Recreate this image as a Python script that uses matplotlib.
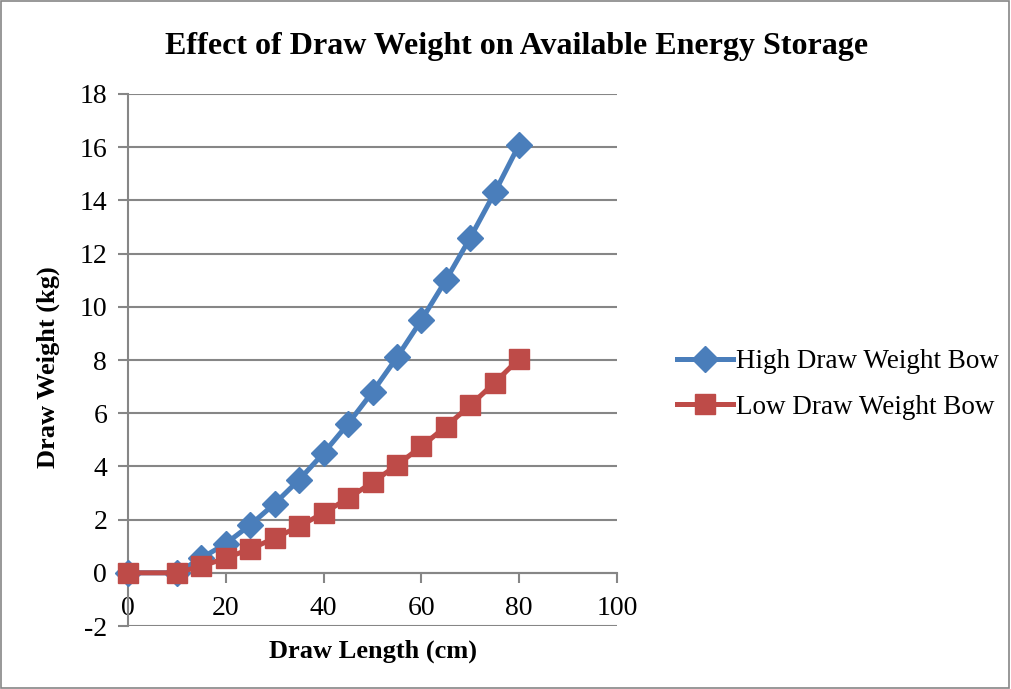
import numpy as np
import matplotlib
matplotlib.use('Agg')
import matplotlib.pyplot as plt
from matplotlib.patches import Rectangle

plt.rcParams['font.family'] = ['Liberation Serif', 'DejaVu Serif']
plt.rcParams['axes.unicode_minus'] = False

draw_length = [0, 10, 15, 20, 25, 30, 35, 40, 45, 50, 55, 60, 65, 70, 75, 80]
high_weight = [0, 0, 0.55, 1.1, 1.8, 2.6, 3.5, 4.5, 5.6, 6.8, 8.1, 9.5, 11.0, 12.6, 14.3, 16.1]
low_weight = [0, 0, 0.25, 0.55, 0.9, 1.3, 1.75, 2.25, 2.8, 3.4, 4.05, 4.75, 5.5, 6.3, 7.15, 8.05]

x_ticks = [0, 20, 40, 60, 80, 100]
y_ticks = [-2, 0, 2, 4, 6, 8, 10, 12, 14, 16, 18]

blue = '#4A7EBB'
red = '#BE4B48'
grid_col = '#868686'

fig = plt.figure(figsize=(10.11, 6.89), dpi=100)
ax = fig.add_axes([0.1266, 0.0914, 0.4837, 0.7722])

ax.plot(draw_length, high_weight, color=blue, lw=3.6, marker='D', ms=13,
        label='High Draw Weight Bow', zorder=3, clip_on=False)
ax.plot(draw_length, low_weight, color=red, lw=3.6, marker='s', ms=15,
        label='Low Draw Weight Bow', zorder=4, clip_on=False)

ax.set_xlim(0, 100)
ax.set_ylim(-2, 18)
ax.set_xticks(x_ticks)
ax.set_yticks(y_ticks)
ax.yaxis.grid(True, color=grid_col, lw=1.5)
ax.set_axisbelow(True)

for s in ['top', 'right']:
    ax.spines[s].set_visible(False)
ax.spines['bottom'].set_position(('data', 0))
ax.spines['bottom'].set_color(grid_col)
ax.spines['bottom'].set_linewidth(1.5)
ax.spines['left'].set_color(grid_col)
ax.spines['left'].set_linewidth(1.5)
ax.tick_params(axis='both', color=grid_col, width=1.5, length=7, labelsize=20)
ax.tick_params(axis='x', pad=10)
ax.tick_params(axis='y', pad=8)

ax.set_xlabel('Draw Length (cm)', fontsize=19, fontweight='bold')
ax.xaxis.set_label_coords(0.5, -0.025)
ax.set_ylabel('Draw Weight (kg)', fontsize=19, fontweight='bold')
ax.yaxis.set_label_coords(-0.14, 0.487)
fig.suptitle('Effect of Draw Weight on Available Energy Storage', fontsize=23,
             fontweight='bold', x=0.511, y=0.953)

ax.legend(loc='center left', bbox_to_anchor=(1.072, 0.454), frameon=False,
          fontsize=19.5, handlelength=2.1, handletextpad=0.1, labelspacing=0.75)

fig.patches.append(Rectangle((0.001, 0.001), 0.997, 0.997, transform=fig.transFigure,
                             fill=False, edgecolor=grid_col, lw=1.2))

fig.savefig('out.png', dpi=100)
